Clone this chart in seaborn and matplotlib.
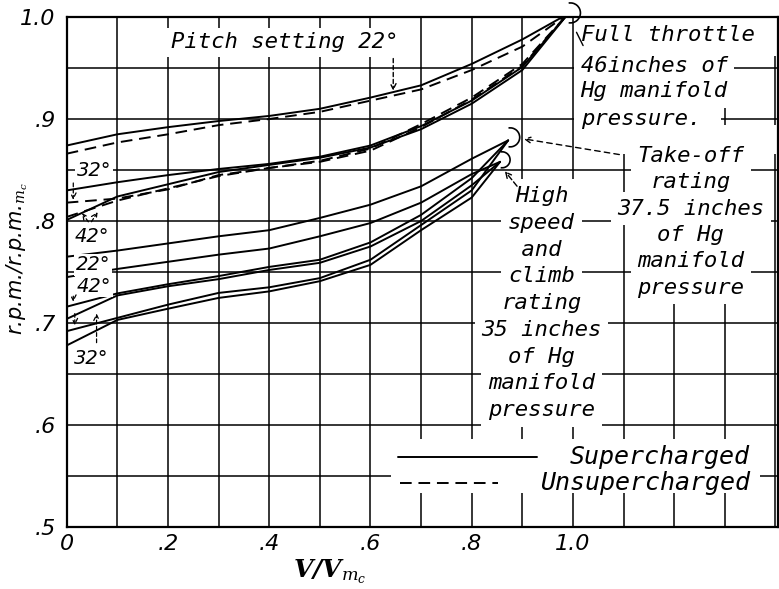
import numpy as np
import pandas as pd
import matplotlib
matplotlib.use("Agg")
import matplotlib.pyplot as plt
import seaborn as sns
from matplotlib.patches import Arc, Rectangle

# ---------------- data ----------------
# Full throttle, 46 in Hg
v_full = [0.0, 0.1, 0.2, 0.3, 0.4, 0.5, 0.6, 0.7, 0.8, 0.9, 0.99]
full_22_sup = [0.874, 0.885, 0.892, 0.898, 0.903, 0.910, 0.921, 0.933, 0.954, 0.978, 1.003]
full_22_uns = [0.866, 0.877, 0.885, 0.894, 0.900, 0.907, 0.918, 0.929, 0.948, 0.971, 1.003]
full_32_sup = [0.830, 0.838, 0.845, 0.851, 0.856, 0.863, 0.874, 0.893, 0.918, 0.951, 1.003]
full_32_uns = [0.818, 0.822, 0.831, 0.845, 0.852, 0.859, 0.871, 0.895, 0.921, 0.954, 1.003]
full_42_sup = [0.801, 0.824, 0.836, 0.848, 0.855, 0.862, 0.872, 0.890, 0.915, 0.948, 1.003]
full_42_uns = [0.804, 0.820, 0.832, 0.844, 0.852, 0.858, 0.869, 0.892, 0.919, 0.952, 1.003]

# Take-off rating, 37.5 in Hg
v_takeoff = [0.0, 0.1, 0.2, 0.3, 0.4, 0.5, 0.6, 0.7, 0.8, 0.872]
to_22 = [0.765, 0.771, 0.778, 0.785, 0.791, 0.803, 0.816, 0.834, 0.861, 0.879]
to_42 = [0.716, 0.729, 0.738, 0.746, 0.755, 0.762, 0.779, 0.806, 0.842, 0.879]
to_32 = [0.692, 0.705, 0.718, 0.7295, 0.735, 0.744, 0.762, 0.796, 0.830, 0.879]

# High speed and climb rating, 35 in Hg
v_climb = [0.0, 0.1, 0.2, 0.3, 0.4, 0.5, 0.6, 0.7, 0.8, 0.856]
hs_22 = [0.745, 0.753, 0.760, 0.767, 0.773, 0.785, 0.798, 0.818, 0.846, 0.858]
hs_42 = [0.704, 0.727, 0.736, 0.743, 0.752, 0.759, 0.775, 0.800, 0.835, 0.858]
hs_32 = [0.678, 0.703, 0.714, 0.7246, 0.731, 0.741, 0.757, 0.791, 0.823, 0.858]

x_tick_values = [0.0, 0.1, 0.2, 0.3, 0.4, 0.5, 0.6, 0.7, 0.8, 0.9, 1.0, 1.1, 1.2, 1.3, 1.4]
x_tick_labels = ["0", "", ".2", "", ".4", "", ".6", "", ".8", "", "1.0", "", "", "", ""]
y_tick_values = [0.5, 0.55, 0.6, 0.65, 0.7, 0.75, 0.8, 0.85, 0.9, 0.95, 1.0]
y_tick_labels = [".5", "", ".6", "", ".7", "", ".8", "", ".9", "", "1.0"]

# ---------------- assemble long table ----------------
series = [
    ("full22s", v_full, full_22_sup, "Supercharged"),
    ("full22u", v_full, full_22_uns, "Unsupercharged"),
    ("full32s", v_full, full_32_sup, "Supercharged"),
    ("full32u", v_full, full_32_uns, "Unsupercharged"),
    ("full42s", v_full, full_42_sup, "Supercharged"),
    ("full42u", v_full, full_42_uns, "Unsupercharged"),
    ("to22", v_takeoff, to_22, "Supercharged"),
    ("to42", v_takeoff, to_42, "Supercharged"),
    ("to32", v_takeoff, to_32, "Supercharged"),
    ("hs22", v_climb, hs_22, "Supercharged"),
    ("hs42", v_climb, hs_42, "Supercharged"),
    ("hs32", v_climb, hs_32, "Supercharged"),
]
rows = []
for name, xs, ys, kind in series:
    for xv, yv in zip(xs, ys):
        rows.append({"v": xv, "rpm": yv, "curve": name, "kind": kind})
df = pd.DataFrame(rows)

# ---------------- figure ----------------
sns.set_style("white")
plt.rcParams["font.family"] = ["DejaVu Sans"]
plt.rcParams["mathtext.fontset"] = "dejavuserif"
plt.rcParams["text.color"] = "black"
plt.rcParams["xtick.color"] = "black"
plt.rcParams["ytick.color"] = "black"

W, H = 779, 589
fig = plt.figure(figsize=(W / 100, H / 100), dpi=100)
L, R, T, B = 66.7, 778, 17, 527
ax = fig.add_axes([L / W, 1 - B / H, (R - L) / W, (B - T) / H])

ax.set_xlim(0, 1.405)
ax.set_ylim(0.5, 1.0)
ax.set_xticks(x_tick_values)
ax.set_xticklabels(x_tick_labels, fontstyle="italic", fontsize=16, color="black")
ax.set_yticks(y_tick_values)
ax.set_yticklabels(y_tick_labels, fontstyle="italic", fontsize=16, color="black")
ax.tick_params(axis="x", length=0, pad=5, colors="black")
ax.tick_params(axis="y", length=0, pad=8, colors="black")
ax.grid(True, color="black", lw=1.1)
ax.set_axisbelow(True)
for s in ax.spines.values():
    s.set_color("black")
    s.set_linewidth(1.6)
    s.set_zorder(6)

sns.lineplot(data=df, x="v", y="rpm", units="curve", estimator=None,
             style="kind", dashes={"Supercharged": "", "Unsupercharged": (6, 3.5)},
             color="black", lw=1.4, legend=False, sort=False, ax=ax, zorder=3)
ax.set_xlabel("")
ax.set_ylabel("")

MONO = "DejaVu Sans Mono"
txt = dict(fontsize=16, fontstyle="italic", fontfamily=MONO, color="black", zorder=4)
box = dict(boxstyle="square,pad=0.3", fc="white", ec="none")
box_top = dict(boxstyle="square,pad=0.12", fc="white", ec="none")

# Pitch setting label + arrow
ax.text(0.431, 0.975, "Pitch setting 22°", ha="center", va="center",
        bbox=dict(boxstyle="square,pad=0.22", fc="white", ec="none"), **txt)
ax.annotate("", xy=(0.645, 0.925), xytext=(0.645, 0.962),
            arrowprops=dict(arrowstyle="->", lw=1.0, ls=(0, (3, 2)), color="black"), zorder=4)

# blank areas of the right-hand column (as on the drawing)
ax.add_patch(Rectangle((1.03, 0.866), 0.375, 0.028, fc="white", ec="none", zorder=1))
ax.add_patch(Rectangle((1.03, 0.962), 0.375, 0.037, fc="white", ec="none", zorder=1))

# Full throttle block
for s, yv in zip(["Full throttle", "46inches of", "Hg manifold", "pressure. "],
                 [0.982, 0.952, 0.927, 0.900]):
    ax.text(1.015, yv, s, ha="left", va="center",
            bbox=box_top if s.startswith("Full") else box, **txt)

# Take-off block
for k, s in enumerate(["Take-off", "rating", "37.5 inches", "of Hg", "manifold", "pressure"]):
    ax.text(1.233, 0.864 - k * 0.0259, s, ha="center", va="center", bbox=box, **txt)

# High speed block
for k, s in enumerate(["High", "speed", " and ", "climb", "rating", "35 inches",
                       "of Hg", "manifold", "pressure"]):
    ax.text(0.938, 0.8245 - k * 0.02625, s, ha="center", va="center", bbox=box, **txt)

# arcs at curve ends
for (cx, cy, r) in [(0.995, 1.004, 10), (0.876, 0.882, 9.5), (0.860, 0.860, 8)]:
    ax.add_patch(Arc((cx, cy), 2 * r / 506, 2 * r / 1020, theta1=-110, theta2=110,
                     color="black", lw=1.2, clip_on=False, zorder=7))

# leaders
ax.plot([1.007, 1.020], [0.985, 0.972], color="black", lw=1.0, zorder=5, clip_on=False)
ax.annotate("", xy=(0.897, 0.881), xytext=(1.097, 0.8647),
            arrowprops=dict(arrowstyle="->", lw=1.0, ls=(0, (4, 3)), color="black"), zorder=4)
ax.annotate("", xy=(0.862, 0.851), xytext=(0.893, 0.832),
            arrowprops=dict(arrowstyle="->", lw=1.0, ls=(0, (4, 2)), color="black"), zorder=5)

# left pitch labels
small = dict(fontsize=14, fontstyle="italic", color="black", zorder=4)
sbox = dict(boxstyle="square,pad=0.08", fc="white", ec="none")
ax.text(0.054, 0.850, "32°", ha="center", va="center", bbox=sbox, **small)
ax.text(0.050, 0.785, "42°", ha="center", va="center", bbox=sbox, **small)
ax.text(0.052, 0.757, "22°", ha="center", va="center", bbox=sbox, **small)
ax.text(0.054, 0.736, "42°", ha="center", va="center", bbox=sbox, **small)
ax.text(0.048, 0.665, "32°", ha="center", va="center", bbox=sbox, **small)

ap = dict(arrowstyle="->", lw=0.9, ls=(0, (3, 2)), color="black")
ax.annotate("", xy=(0.013, 0.818), xytext=(0.013, 0.840), arrowprops=ap, zorder=4)
ax.annotate("", xy=(0.027, 0.810), xytext=(0.046, 0.797), arrowprops=ap, zorder=4)
ax.annotate("", xy=(0.064, 0.811), xytext=(0.046, 0.797), arrowprops=ap, zorder=4)
ax.annotate("", xy=(0.013, 0.718), xytext=(0.013, 0.729), arrowprops=ap, zorder=4)
ax.annotate("", xy=(0.016, 0.695), xytext=(0.016, 0.712), arrowprops=ap, zorder=4)
ax.annotate("", xy=(0.059, 0.712), xytext=(0.059, 0.678), arrowprops=ap, zorder=4)

# legend area
ax.add_patch(Rectangle((0.64, 0.533), 0.73, 0.053, fc="white", ec="none", zorder=1))
ax.plot([0.655, 0.929], [0.569, 0.569], color="black", lw=1.4, zorder=4)
ax.plot([0.659, 0.851], [0.543, 0.543], color="black", lw=1.4, ls=(0, (6, 3.5)), zorder=4)
leg = dict(txt, fontsize=18)
ax.text(1.350, 0.569, "Supercharged", ha="right", va="center", **leg)
ax.text(1.350, 0.543, "Unsupercharged", ha="right", va="center", **leg)

# axis labels
fig.text(17 / W, 1 - 259 / H, r"r.p.m./r.p.m.$_{m_c}$", rotation=90,
         ha="center", va="center", fontsize=15, fontstyle="italic")
fig.text(330 / W, 1 - 572 / H, r"V/V$_{m_c}$", ha="center", va="center",
         fontsize=18, fontfamily="DejaVu Serif", fontweight="bold", fontstyle="italic")

fig.savefig("out.png", dpi=100)
